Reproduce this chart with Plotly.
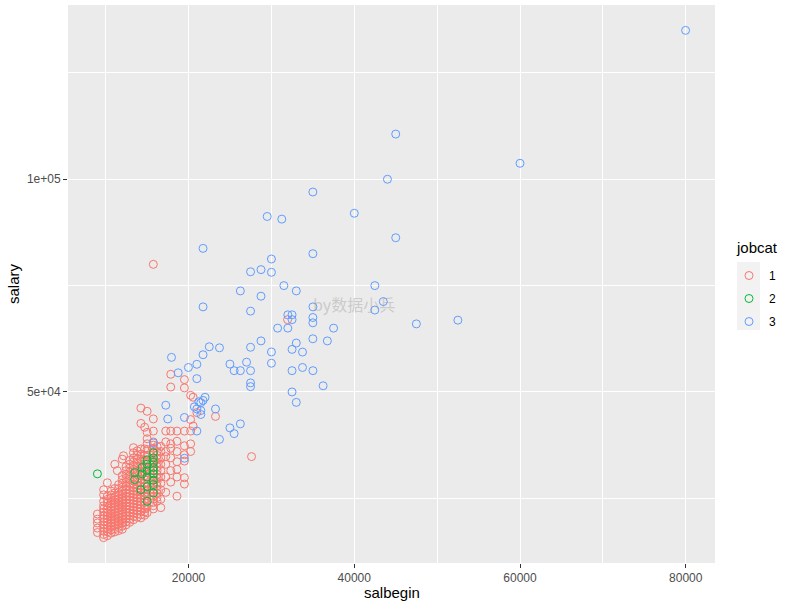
import plotly.graph_objects as go

# ---------------- data ----------------
# jobcat 1 (clerical): salbegin levels and the salaries seen at each level
clerical_salbegin_levels = [
    9000, 9750, 10200, 10650, 11100, 11400, 11550, 12000, 12150, 12450,
    12900, 13350, 13800, 14250, 14700, 15000, 15750, 16200, 16650, 17250,
    17850, 18600, 19500, 20250, 20550, 21000, 23250, 27600, 31950,
]
clerical_salary_by_level = [
    [16950, 18000, 19200, 20100, 21300],
    [15750, 16500, 17250, 18000, 18750, 19500, 20250, 21000, 21750, 22500, 23250, 24300, 25800, 27000],
    [16200, 17100, 17850, 18600, 19350, 20100, 20850, 21600, 22350, 23100, 23850, 24750, 25500, 28650],
    [16800, 17550, 18300, 19050, 19800, 20550, 21300, 22050, 22800, 23550, 24300, 25050, 25800, 26700],
    [17100, 17850, 18600, 19350, 20100, 20850, 21600, 22350, 23100, 23850, 24600, 25350, 26250, 27300, 33000],
    [31500],
    [17400, 18150, 18900, 19650, 20400, 21150, 21900, 22650, 23400, 24150, 24900, 25650, 26400, 27300, 28200],
    [17700, 18450, 19200, 19950, 20700, 21450, 22200, 22950, 23700, 24450, 25200, 25950, 26700, 27600, 28500, 29400, 30300, 34200],
    [35000],
    [18750, 19500, 20250, 21000, 21750, 22500, 23250, 24000, 24750, 25500, 26250, 27000, 27900, 28800, 29700, 30600, 31500, 32400],
    [19350, 20100, 20850, 21600, 22350, 23100, 23850, 24600, 25350, 26100, 26850, 27600, 28500, 29400, 30300, 31200, 32100, 33000, 33900],
    [19950, 20700, 21450, 22200, 22950, 23700, 24450, 25200, 25950, 26700, 27450, 28200, 29100, 30000, 30900, 31800, 32700, 33600, 34500, 35700, 36900],
    [20550, 21300, 22050, 22800, 23550, 24300, 25050, 25800, 26550, 27300, 28050, 28800, 29700, 30600, 31500, 32400, 33300, 34200, 35100, 36150],
    [20400, 21150, 21900, 22650, 23400, 24150, 24900, 25650, 26400, 27150, 27900, 28650, 29400, 30300, 31200, 32100, 33000, 34200, 35400, 36600, 42600, 46200],
    [21000, 21750, 22500, 23250, 24000, 24750, 25500, 26250, 27000, 27750, 28500, 29400, 30300, 31200, 32100, 33000, 34050, 35100, 36600, 41700],
    [21600, 22950, 24300, 25650, 27000, 28350, 29700, 31050, 32400, 33750, 35100, 36450, 37800, 39000, 40500, 45450],
    [22500, 23250, 24000, 24750, 25500, 26250, 27000, 27750, 28500, 29250, 30000, 30750, 31500, 32250, 33000, 33750, 34500, 35250, 36000, 36750, 37500, 38250, 40800, 43650, 80000],
    [24300, 25200, 26100, 27000, 27900, 28800, 29700, 30600, 31500, 32400, 33300, 34200, 35100, 36000, 37200],
    [22800, 24750, 27000, 28500, 30000, 31500, 33000, 34500, 36000, 37200],
    [26400, 30000, 33000, 34800, 36000, 38250, 40800],
    [28800, 31500, 34500, 36750, 37800, 40800, 51150, 54150],
    [25500, 30000, 31800, 33600, 36000, 38400, 40800],
    [28350, 29850, 33750, 35250, 37350, 40800, 50950, 52900],
    [36000, 37800, 40800, 43500, 49200],
    [42000, 48750],
    [45150],
    [44250],
    [34800],
    [67000],
]

# jobcat 2 (custodial)
custodial_salbegin = [9000, 15750, 15750, 15750, 15750, 15750, 15750, 15750, 15000, 15000,
                      15000, 14400, 14400, 13500, 13500, 15750, 15000, 14250, 15000, 15750, 15000]
custodial_salary = [30750, 35700, 34500, 33450, 32250, 30750, 29250, 28200, 33000, 31500,
                    30000, 32250, 30750, 31050, 29400, 26250, 27750, 27000, 34050, 31500, 24300]

# jobcat 3 (manager)
manager_salbegin = [
    79980, 60000, 45000, 44000, 35000, 40000, 29490, 31250, 45000, 21750,
    35000, 30000, 27480, 28740, 30000, 31500, 42480, 26250, 33000, 28740,
    21750, 35010, 43500, 42480, 27480, 31980, 32490, 32490, 35000, 35000,
    47490, 52500, 30750, 31980, 37500, 35000, 36750, 28740, 33000, 22500,
    23730, 27480, 32490, 30000, 33750, 21750, 17940, 27000, 24990, 30000,
    21000, 19980, 18750, 25500, 26250, 27480, 32490, 33750, 35010, 21000,
    27480, 27480, 36240, 32490, 33000, 17250, 21990, 21750, 21480, 21000,
    21480, 23250, 19500, 17490, 21000, 24990, 26250, 25500, 23730, 15750,
    19500, 21240, 20700, 21480,
]
manager_salary = [
    135000, 103750, 110625, 100000, 97000, 92000, 91250, 90625, 86250, 83750,
    82500, 81250, 78250, 78750, 78125, 75000, 75000, 73750, 73750, 72500,
    70000, 70000, 71250, 69250, 69000, 68125, 68125, 67000, 67500, 66250,
    66000, 66875, 65000, 65000, 65000, 62500, 62000, 62000, 61500, 60625,
    60375, 60500, 60000, 59400, 59375, 58750, 58125, 57000, 56550, 56750,
    56500, 55750, 54500, 55000, 55000, 55000, 55000, 55750, 55000, 53125,
    52125, 51250, 51450, 50000, 47550, 46875, 48750, 48000, 47500, 46000,
    45625, 46000, 44000, 43650, 40800, 41550, 42500, 40200, 38850, 38000,
    34410, 47700, 46500, 44700,
]

group_labels = ["1", "2", "3"]
group_colors = ["#F8766D", "#00BA38", "#619CFF"]

x_tick_vals = [20000, 40000, 60000, 80000]
x_tick_text = ["20000", "40000", "60000", "80000"]
y_tick_vals = [50000, 100000]
y_tick_text = ["5e+04", "1e+05"]

# ---------------- build ----------------
clerical_x, clerical_y = [], []
for level, sals in zip(clerical_salbegin_levels, clerical_salary_by_level):
    for s in sals:
        clerical_x.append(level)
        clerical_y.append(s)

series = [
    (clerical_x, clerical_y),
    (custodial_salbegin, custodial_salary),
    (manager_salbegin, manager_salary),
]

FONT = "Arial, 'Liberation Sans', sans-serif"

# panel geometry in pixels (figure 791 x 607)
W, H = 791, 607
PL, PR, PT, PB = 68, 715, 5, 563
pw, ph = PR - PL, PB - PT


def px_x(x):
    return (x - PL) / pw


def px_y(y):
    return (PB - y) / ph


fig = go.Figure()
for (xs, ys), lab, col in zip(series, group_labels, group_colors):
    fig.add_trace(go.Scatter(
        x=xs, y=ys, mode="markers", name=lab, legendgroup=lab,
        marker=dict(symbol="circle-open", size=8, color=col, line=dict(width=1, color=col)),
    ))

all_x = clerical_x + custodial_salbegin + manager_salbegin
all_y = clerical_y + custodial_salary + manager_salary
xmin, xmax = min(all_x), max(all_x)
ymin, ymax = min(all_y), max(all_y)
xpad = (xmax - xmin) * 0.05
ypad = (ymax - ymin) * 0.05

axis_common = dict(
    showgrid=True, gridcolor="white", gridwidth=1.1,
    zeroline=False, showline=False, automargin=False,
    ticks="outside", ticklen=4, tickwidth=1, tickcolor="#333333",
    tickfont=dict(family=FONT, size=12, color="#4D4D4D"),
)

fig.update_layout(
    width=W, height=H,
    paper_bgcolor="white", plot_bgcolor="#EBEBEB",
    margin=dict(l=PL, r=W - PR, t=PT, b=H - PB, autoexpand=False),
    showlegend=True,
    xaxis=dict(
        range=[xmin - xpad, xmax + xpad], tickmode="array",
        tickvals=x_tick_vals, ticktext=x_tick_text,
        minor=dict(tickmode="linear", tick0=0, dtick=10000, showgrid=True,
                   gridcolor="white", gridwidth=0.55, ticks=""),
        **axis_common,
    ),
    yaxis=dict(
        range=[ymin - ypad, ymax + ypad], tickmode="array",
        tickvals=y_tick_vals, ticktext=y_tick_text,
        minor=dict(tickmode="linear", tick0=0, dtick=25000, showgrid=True,
                   gridcolor="white", gridwidth=0.55, ticks=""),
        **axis_common,
    ),
    legend=dict(
        font=dict(family=FONT, size=12, color="black"),
        x=px_x(729), xanchor="left", y=px_y(261), yanchor="top",
        bgcolor="rgba(0,0,0,0)", tracegroupgap=4, itemwidth=30,
    ),
    shapes=[dict(type="rect", xref="paper", yref="paper",
                 x0=px_x(737), x1=px_x(760), y0=px_y(330), y1=px_y(262),
                 fillcolor="#F2F2F2", line=dict(width=0), layer="below")],
    annotations=[
        dict(text="by数据小兵", xref="paper", yref="paper",
             x=px_x(354), y=px_y(304), showarrow=False,
             font=dict(family="'Noto Sans CJK SC', sans-serif", size=16,
                       color="rgba(150,150,150,0.4)")),
        dict(text="salbegin", xref="paper", yref="paper",
             x=px_x((PL + PR) / 2), y=px_y(592), xanchor="center", yanchor="middle",
             showarrow=False, font=dict(family=FONT, size=15, color="black")),
        dict(text="salary", xref="paper", yref="paper", textangle=-90,
             x=px_x(13), y=px_y((PT + PB) / 2), xanchor="center", yanchor="middle",
             showarrow=False, font=dict(family=FONT, size=15, color="black")),
        dict(text="jobcat", xref="paper", yref="paper",
             x=px_x(734), y=px_y(248), xanchor="left", yanchor="middle",
             showarrow=False, font=dict(family=FONT, size=15, color="black")),
    ],
)

fig.write_html(
    "out.html",
    config={"displayModeBar": False},
    post_script="document.body.style.margin='0px';document.body.style.overflow='hidden';",
)
